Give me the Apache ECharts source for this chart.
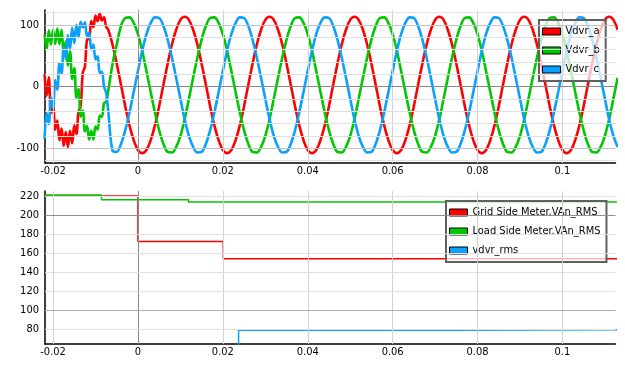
<!DOCTYPE html>
<html><head><meta charset="utf-8">
<script src="https://cdn.jsdelivr.net/npm/echarts@6/dist/echarts.min.js"></script>
<style>html,body{margin:0;padding:0;background:#fff}#c{width:625px;height:374px}</style>
</head><body><div id="c"></div>
<script>
// ---------- data ----------
const timeS = [-0.022,-0.0215,-0.021,-0.0205,-0.02,-0.0195,-0.019,-0.0185,-0.018,-0.0175,-0.017,-0.0165,-0.016,-0.0155,-0.015,-0.0145,
-0.014,-0.0135,-0.013,-0.0125,-0.012,-0.0115,-0.011,-0.0105,-0.01,-0.0095,-0.009,-0.0085,-0.008,-0.0075,-0.007,
-0.006,-0.005,-0.004,-0.003,-0.002,-0.001,
0,0.001,0.002,0.003,0.004,0.005,0.006,0.007,0.008,0.009,0.01,0.011,0.012,0.013,0.014,0.015,0.016,0.017,0.018,0.019,
0.02,0.021,0.022,0.023,0.024,0.025,0.026,0.027,0.028,0.029,0.03,0.031,0.032,0.033,0.034,0.035,0.036,0.037,0.038,0.039,
0.04,0.041,0.042,0.043,0.044,0.045,0.046,0.047,0.048,0.049,0.05,0.051,0.052,0.053,0.054,0.055,0.056,0.057,0.058,0.059,
0.06,0.061,0.062,0.063,0.064,0.065,0.066,0.067,0.068,0.069,0.07,0.071,0.072,0.073,0.074,0.075,0.076,0.077,0.078,0.079,
0.08,0.081,0.082,0.083,0.084,0.085,0.086,0.087,0.088,0.089,0.09,0.091,0.092,0.093,0.094,0.095,0.096,0.097,0.098,0.099,
0.1,0.101,0.102,0.103,0.104,0.105,0.106,0.107,0.108,0.109,0.11,0.111,0.112,0.113];

const vdvrA = [20,-15,15,-43,-30,-70,-55,-87,-68,-96,-74,-98,-72,-92,-63,-77,
-41,-32,22,32,76,77,106,96,115,106,118,107,112,97,92,
68,37,3,-32,-63,-87,
-103,-108,-103,-87,-63,-32,3,37,68,92,108,
113,108,92,68,37,3,-32,-63,-87,-103,-108,-103,-87,-63,-32,3,37,68,92,108,
113,108,92,68,37,3,-32,-63,-87,-103,-108,-103,-87,-63,-32,3,37,68,92,108,
113,108,92,68,37,3,-32,-63,-87,-103,-108,-103,-87,-63,-32,3,37,68,92,108,
113,108,92,68,37,3,-32,-63,-87,-103,-108,-103,-87,-63,-32,3,37,68,92,108,
113,108,92,68,37,3,-32,-63,-87,-103,-108,-103,-87,-63,-32,3,37,68,92,108,
113,108,92];

const vdvrB = [84,61,91,68,92,69,94,69,92,56,73,34,57,12,30,-18,
-4,-49,-39,-73,-64,-86,-72,-86,-65,-70,-47,-49,-27,-25,-7,
36,68,98,111,
112,103,85,58,25,-9,-42,-71,-93,-106,-107,-98,-80,-53,-20,14,47,76,98,111,
112,103,85,58,25,-9,-42,-71,-93,-106,-107,-98,-80,-53,-20,14,47,76,98,111,
112,103,85,58,25,-9,-42,-71,-93,-106,-107,-98,-80,-53,-20,14,47,76,98,111,
112,103,85,58,25,-9,-42,-71,-93,-106,-107,-98,-80,-53,-20,14,47,76,98,111,
112,103,85,58,25,-9,-42,-71,-93,-106,-107,-98,-80,-53,-20,14,47,76,98,111,
112,103,85,58,25,-9,-42,-71,-93,-106,-107,-98,-80,-53,-20,14];

const vdvrC = [-85,-43,-61,-18,-35,10,-5,38,21,63,45,83,61,95,70,100,
80,105,96,104,82,87,60,68,44,49,22,24,0,-10,-40,
-104,
-106,-93,-71,-42,-9,25,58,85,103,
112,111,98,76,47,14,-20,-53,-80,-98,-107,-106,-93,-71,-42,-9,25,58,85,103,
112,111,98,76,47,14,-20,-53,-80,-98,-107,-106,-93,-71,-42,-9,25,58,85,103,
112,111,98,76,47,14,-20,-53,-80,-98,-107,-106,-93,-71,-42,-9,25,58,85,103,
112,111,98,76,47,14,-20,-53,-80,-98,-107,-106,-93,-71,-42,-9,25,58,85,103,
112,111,98,76,47,14,-20,-53,-80,-98,-107,-106,-93,-71,-42,-9,25,58,85,103,
112,111,98,76,47,14,-20,-53,-80,-98];

const gridSideT = [-0.022, 0, 0.0201, 0.113];
const gridSideV = [220, 172, 154, 154];
const loadSideT = [-0.022, -0.0086, 0.0119, 0.113];
const loadSideV = [221, 216, 213.7, 213.7];
const vdvrRmsT = [-0.022, 0.0237, 0.074, 0.113];
const vdvrRmsV = [0, 78.6, 79.1, 79.1];

const xTicks = [-0.02, 0, 0.02, 0.04, 0.06, 0.08, 0.1];
const topYTicks = [-100, 0, 100];
const topYGrid = [-120,-100,-80,-60,-40,-20,0,20,40,60,80,100,120];
const botYTicks = [80,100,120,140,160,180,200,220];

const topNames = ['Vdvr_a','Vdvr_b','Vdvr_c'];
const botNames = ['Grid Side Meter.VAn_RMS','Load Side Meter.VAn_RMS','vdvr_rms'];
const colRed = '#ff0000', colGreen = '#00c800', colBlue = '#0aa0ff';

// ---------- chart ----------
const FONT = "'DejaVu Sans Condensed','Liberation Sans',sans-serif";
const X_MIN = -0.0219, X_MAX = 0.1125;
const pairs = (t, v) => t.map((x, i) => [x, v[i]]);

function xAxisCfg(gi) {
  return {type:'value', gridIndex:gi, min:X_MIN, max:X_MAX,
    axisLine:{show:true, onZero:false, lineStyle:{color:'#000', width:1.5}},
    axisTick:{show:false}, splitLine:{show:false},
    axisLabel:{customValues:xTicks, color:'#000', fontSize:11, fontFamily:FONT, margin:3, formatter:v=>String(v)}};
}
function yAxisCfg(gi, min, max, ticks) {
  return {type:'value', gridIndex:gi, min, max,
    axisLine:{show:true, onZero:false, lineStyle:{color:'#000', width:1.5}},
    axisTick:{show:false}, splitLine:{show:false},
    axisLabel:{customValues:ticks, color:'#000', fontSize:11, fontFamily:FONT, margin:6}};
}
function gridLines(idx, yVals, yColor) {
  const d = [];
  xTicks.forEach(v => d.push({xAxis:v, lineStyle:{color: v === 0 ? '#888' : '#d2d2d2'}}));
  yVals.forEach(v => d.push({yAxis:v, lineStyle:{color: yColor(v)}}));
  return {type:'line', xAxisIndex:idx, yAxisIndex:idx, data:[], z:1, silent:true,
    markLine:{silent:true, symbol:['none','none'], label:{show:false}, animation:false,
      lineStyle:{type:'solid', width:1}, data:d}};
}
function lineSeries(name, idx, data, color, width, extra) {
  return Object.assign({type:'line', name, xAxisIndex:idx, yAxisIndex:idx, data, z:2,
    showSymbol:false, symbol:'none', color, itemStyle:{color},
    lineStyle:{color, width}, animation:false}, extra || {});
}
const legendBase = {orient:'vertical', icon:'rect', itemWidth:18, itemHeight:7, itemGap:8,
  padding:[6,6,6,3], borderColor:'#606060', borderWidth:2, backgroundColor:'rgba(255,255,255,0.72)',
  itemStyle:{borderColor:'#000', borderWidth:1},
  textStyle:{color:'#000', fontSize:11, fontFamily:FONT}, selectedMode:false};

const option = {
  animation:false,
  backgroundColor:'#fff',
  grid:[{left:45, top:10, right:9.5, bottom:211},
        {left:45, top:191, right:9.5, bottom:30}],
  xAxis:[xAxisCfg(0), xAxisCfg(1)],
  yAxis:[yAxisCfg(0, -124, 124, topYTicks), yAxisCfg(1, 64.2, 225.3, botYTicks)],
  legend:[Object.assign({}, legendBase, {data:topNames, left:539, top:20}),
          Object.assign({}, legendBase, {data:botNames, left:446, top:201})],
  series:[
    gridLines(0, topYGrid, v => v === 0 ? '#888' : (v % 100 === 0 ? '#c4c4c4' : '#e0e0e0')),
    gridLines(1, botYTicks, v => v === 200 ? '#909090' : (v === 100 ? '#b0b0b0' : '#e0e0e0')),
    lineSeries(topNames[0], 0, pairs(timeS, vdvrA), colRed, 2.6, {smooth:0.35}),
    lineSeries(topNames[1], 0, pairs(timeS, vdvrB), colGreen, 2.6, {smooth:0.35}),
    lineSeries(topNames[2], 0, pairs(timeS, vdvrC), colBlue, 2.6, {smooth:0.35}),
    lineSeries(botNames[0], 1, pairs(gridSideT, gridSideV), colRed, 1.5, {step:'end'}),
    lineSeries(botNames[1], 1, pairs(loadSideT, loadSideV), colGreen, 1.5, {step:'end'}),
    lineSeries(botNames[2], 1, pairs(vdvrRmsT, vdvrRmsV), colBlue, 1.5, {step:'end'})
  ]
};
const chart = echarts.init(document.getElementById('c'));
chart.setOption(option);
</script>
</body></html>
